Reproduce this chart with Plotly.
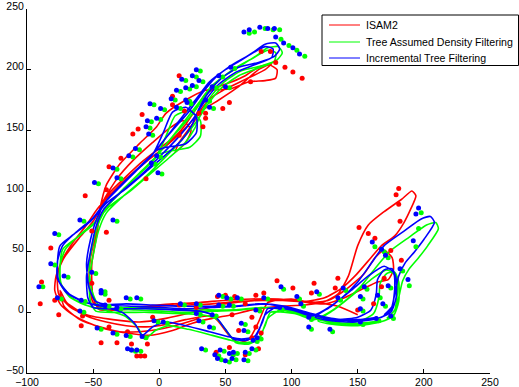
import plotly.graph_objects as go

# ---------------- trajectories (x, y) ----------------
isam2_path = [(150,-2),(135,5),(120,8),(100,10),(80,10),(60,9),(40,7),(20,6),(0,5),(-20,3),(-40,2),(-50,8),(-53,25),(-52,45),(-48,65),(-45,85),(-40,105),(-30,122),(-15,139),(-2,153),(5,164),(20,175),(35,183),(53,184),(68,190),(80,191),(88,193),(89,200),(83,204),(75,202),(65,195),(55,190),(45,186),(35,180),(28,168),(20,155),(12,145),(0,135),(-12,125),(-25,112),(-38,98),(-50,75),(-60,62),(-72,45),(-78,30),(-79,18),(-75,7),(-68,0),(-55,-8),(-40,-14),(-25,-17),(-8,-19),(10,-15),(25,-9),(40,-5),(55,-2),(70,2),(90,5),(110,6),(125,9),(135,15),(143,30),(150,55),(158,72),(170,83),(183,93),(191,100),(194,96),(190,85),(185,74),(178,63),(168,55),(160,45),(148,30),(138,20),(125,12),(110,9),(90,11),(70,11),(50,10),(30,8),(10,7),(-10,5),(-30,3),(-45,2),(-50,12),(-51,40),(-47,65),(-44,88),(-32,110),(-20,125),(-5,140),(8,152),(18,158),(24,150),(20,140),(12,132),(15,140),(25,155),(32,166),(45,175),(60,186),(75,200),(85,205),(80,200),(65,192),(50,184),(38,176),(28,162),(18,150),(5,137),(-10,124),(-25,110),(-38,96),(-47,85),(-55,72),(-65,58),(-74,42),(-77,30),(-76,15),(-68,5),(-55,-3),(-40,-8),(-25,-11),(-10,-12),(5,-10),(20,-6),(40,-3),(45,-8),(52,-18),(60,-25),(68,-22),(75,-8),(82,8),(100,11),(115,8),(128,10),(140,18),(155,32),(163,45),(170,51),(176,45),(177,35),(173,27),(165,25),(155,20),(140,12),(125,7),(105,9),(85,10),(65,9),(45,6),(25,0),(5,-5),(-15,-8),(-35,-6),(-55,-2),(-70,8),(-75,18),(-72,5),(-60,-6),(-45,-12),(-30,-16),(-15,-16),(0,-14),(15,-10),(30,-5)]

tadf_path = [(167,-7),(152,-9),(132,-9),(117,-5),(102,0),(82,4),(62,2),(42,1),(22,0),(2,1),(-18,2),(-36,3),(-46,6),(-51,18),(-53,38),(-50,58),(-45,76),(-38,89),(-26,103),(-13,117),(-1,130),(10,145),(20,159),(30,173),(40,187),(52,197),(64,205),(74,212),(82,218),(90,219),(93,214),(89,208),(77,203),(62,199),(49,190),(39,178),(32,165),(27,152),(19,139),(7,127),(-8,113),(-23,99),(-38,87),(-50,72),(-63,61),(-73,52),(-75,37),(-74,23),(-66,12),(-53,5),(-38,1),(-26,-3),(-16,-13),(-11,-22),(-3,-15),(7,-11),(22,-14),(40,-19),(54,-23),(64,-25),(74,-23),(80,-11),(84,0),(102,-1),(117,-6),(127,-1),(140,9),(152,21),(163,36),(174,50),(189,62),(202,72),(209,74),(211,69),(203,55),(196,45),(189,36),(184,26),(181,12),(178,-1),(170,-7),(152,-10),(132,-8),(117,-4),(97,2),(77,4),(57,2),(37,2),(17,2),(-3,3),(-23,4),(-43,3),(-56,6),(-68,13),(-75,25),(-75,39),(-71,52),(-61,63),(-48,75),(-38,89),(-28,100),(-16,113),(-3,127),(5,145),(12,162),(22,166),(31,158),(31,145),(23,136),(8,133),(0,131),(12,147),(24,162),(34,177),(44,190),(57,201),(70,209),(82,216),(88,214),(87,207),(74,201),(60,195),(47,185),(37,172),(28,157),(17,142),(2,125),(-13,109),(-28,95),(-40,82),(-46,67),(-50,47),(-53,27),(-52,9),(-48,1),(-28,0),(-8,0),(12,-1),(32,-2),(44,-6),(52,-17),(58,-25),(68,-26),(76,-21),(82,-5),(92,2),(107,-2),(120,-6),(137,-9),(152,-7),(162,-1),(166,12),(167,24),(172,32),(178,33),(181,25),(181,9),(177,-3),(167,-8),(150,-11),(132,-10),(120,-7),(132,2),(147,15),(160,27),(172,35),(179,30),(180,17),(178,2),(172,-5)]

itf_path = [(165,-4),(150,-6),(130,-6),(115,-2),(100,3),(80,7),(60,5),(40,4),(20,3),(0,4),(-20,5),(-38,6),(-48,9),(-53,20),(-55,40),(-52,60),(-47,78),(-40,92),(-28,106),(-15,120),(-3,133),(8,148),(18,162),(28,176),(38,190),(50,200),(62,208),(72,215),(80,221),(88,222),(91,217),(87,211),(75,206),(60,202),(47,193),(37,181),(30,168),(25,155),(17,142),(5,130),(-10,116),(-25,102),(-40,90),(-52,75),(-65,64),(-75,55),(-77,40),(-76,26),(-68,15),(-55,8),(-40,4),(-28,0),(-18,-10),(-13,-19),(-5,-12),(5,-8),(20,-11),(38,-16),(52,-20),(62,-22),(72,-20),(78,-8),(82,3),(100,2),(115,-3),(125,2),(138,12),(150,25),(160,40),(170,55),(185,67),(198,77),(205,79),(208,74),(200,60),(193,50),(186,41),(181,30),(178,15),(175,2),(168,-4),(150,-7),(130,-5),(115,-1),(95,5),(75,7),(55,5),(35,5),(15,5),(-5,6),(-25,7),(-45,6),(-58,9),(-70,16),(-77,28),(-77,42),(-73,55),(-63,66),(-50,78),(-40,92),(-30,103),(-18,116),(-5,130),(3,148),(10,165),(20,169),(28,161),(28,148),(20,139),(5,136),(-2,134),(10,150),(22,165),(32,180),(42,193),(55,204),(68,212),(80,219),(86,217),(85,210),(72,204),(58,198),(45,188),(35,175),(26,160),(15,145),(0,128),(-15,112),(-30,98),(-42,85),(-48,70),(-52,50),(-55,30),(-54,12),(-50,4),(-30,3),(-10,3),(10,2),(30,1),(42,-3),(50,-14),(56,-22),(66,-23),(74,-18),(80,-2),(90,5),(105,1),(118,-3),(135,-6),(150,-4),(160,2),(164,15),(165,27),(170,35),(176,36),(179,28),(179,12),(175,0),(165,-5),(148,-8),(130,-7),(118,-4),(130,5),(145,18),(158,30),(170,38),(177,33),(178,20),(176,5),(170,-2)]

# ---------------- landmarks (x, y) ----------------
isam2_landmarks = [(77,215),(84,215),(88,206),(95,202),(101,198),(108,193),(69,190),(48,168),(35,164),(35,160),(30,164),(33,153),(19,166),(10,171),(10,178),(15,195),(53,173),(-56,96),(-38,120),(-29,127),(-20,147),(-16,151),(-13,163),(-10,110),(-40,101),(15,146),
(-82,53),(-89,25),(-90,7),(-79,10),(-76,-2),(-59,-11),(-58,-3),(-44,-25),(-32,-25),(-51,67),(-40,66),(-51,24),(-38,10),(-38,-12),(-24,-16),
(-21,-26),(-9,-26),(-17,-36),(-14,-36),(-11,-36),(-5,-4),(15,6),(28,4),(44,13),(50,14),(57,13),(65,7),(70,-4),(73,-12),(70,-21),(53,-29),(65,-35),(43,-33),(73,14),(79,16),(55,-2),(60,-15),(77,-17),(75,-30),
(89,26),(101,20),(117,24),(115,16),(135,28),(133,20),(151,70),(158,65),(163,61),(162,7),(150,2),(168,21),(170,28),(175,51),(183,43),(182,75),(181,89),(179,97),(181,102)]

tadf_landmarks = [(68,230),(72,231),(80,234),(86,233),(91,233),(92,225),(98,220),(104,216),(110,211),
(31,199),(20,191),(28,194),(33,190),(28,186),(23,184),(16,182),(12,175),(23,174),(16,168),(4,167),(-4,171),(-6,157),(1,159),(-7,152),(-5,146),(-15,134),(-20,128),(-3,122),(1,128),(2,114),(-29,110),(-32,118),(-46,106),(38,174),(43,185),(48,194),(57,201),(53,185),(41,168),(24,172),
(-57,75),(-76,64),(-79,39),(-88,21),(-69,29),(-48,32),(-41,17),(-41,15),(-74,11),(-56,9),(-57,0),(-44,-14),(-32,-18),(-22,-20),(-21,-31),(-32,75),(-29,3),(-22,11),(-14,11),(-38,5),
(-18,-32),(-14,-32),(-10,-21),(-1,-8),(6,-9),(19,6),(31,6),(31,-2),(33,-8),(35,-31),(41,-13),(43,-3),(45,-36),(49,-32),(48,13),(54,11),(62,11),(48,5),(56,5),(65,-10),(67,-16),(47,-39),(56,-35),(59,-34),(53,-41),(58,-39),(67,-40),(68,-34),(73,-31),(74,-24),(77,-22),(76,1),(82,11),
(94,19),(106,11),(121,15),(109,5),(93,2),(115,-6),(115,-14),(131,-16),(141,18),(137,10),(154,11),(157,19),(154,1),(154,-10),(166,-7),(177,-5),(163,54),(170,50),(173,45),(189,22),(194,54),(198,82),(196,69),(184,34),(171,5),(175,20),(167,12)]

itf_landmarks = [(64,231),(68,233),(76,235),(82,234),(87,234),(88,227),(94,222),(101,218),(106,213),
(28,200),(17,192),(25,195),(30,191),(25,187),(20,185),(13,183),(9,176),(20,175),(13,169),(1,168),(-7,172),(-9,158),(-2,160),(-10,153),(-8,147),(-18,135),(-23,129),(-6,123),(-2,129),(-1,115),(-32,111),(-35,119),(-49,107),(35,175),(40,186),(45,195),(54,202),(50,186),(38,169),(21,173),
(-60,76),(-79,65),(-82,40),(-91,21),(-72,30),(-51,33),(-44,18),(-44,16),(-77,12),(-59,10),(-60,1),(-47,-13),(-35,-17),(-25,-19),(-24,-30),(-35,76),(-32,4),(-25,12),(-17,12),(-41,6),
(-21,-31),(-17,-31),(-13,-20),(-4,-7),(3,-8),(16,7),(28,7),(28,-1),(30,-7),(32,-30),(38,-12),(40,-2),(42,-35),(46,-31),(45,14),(51,12),(59,12),(45,6),(53,6),(62,-9),(64,-15),(44,-38),(53,-34),(56,-33),(50,-40),(55,-38),(64,-39),(65,-33),(70,-30),(71,-23),(74,-21),(73,2),(79,12),
(92,21),(104,13),(119,17),(107,7),(91,4),(113,-4),(113,-12),(129,-14),(139,20),(135,12),(152,13),(155,21),(152,3),(152,-8),(164,-5),(175,-3),(161,58),(168,52),(171,47),(188,27),(192,59),(196,86),(194,81),(182,36),(169,7),(173,22),(165,14)]

series_names = ["ISAM2", "Tree Assumed Density Filtering", "Incremental Tree Filtering"]
series_colors = ["#ff0000", "#00ff00", "#0000ff"]
x_ticks = [-100, -50, 0, 50, 100, 150, 200, 250]
y_ticks = [-50, 0, 50, 100, 150, 200, 250]

paths = [isam2_path, tadf_path, itf_path]
landmarks = [isam2_landmarks, tadf_landmarks, itf_landmarks]

fig = go.Figure()
for name, color, path in zip(series_names, series_colors, paths):
    fig.add_trace(go.Scatter(
        x=[p[0] for p in path], y=[p[1] for p in path], mode="lines", name=name,
        showlegend=False,
        line=dict(color=color, width=1.6, shape="spline", smoothing=0.6)))
for name, color, pts in zip(series_names, series_colors, landmarks):
    fig.add_trace(go.Scatter(
        x=[p[0] for p in pts], y=[p[1] for p in pts], mode="markers", showlegend=False,
        marker=dict(color=color, size=5, line=dict(width=0))))

axis_common = dict(showline=True, linecolor="black", linewidth=1, mirror=False,
                   ticks="inside", ticklen=4, tickcolor="black", showgrid=False,
                   zeroline=False, automargin=False, ticklabeloverflow="allow")
fig.update_xaxes(range=[-100, 250], tickvals=x_ticks, ticklabelstandoff=-1,
                 tickfont=dict(size=10.5, color="black"), **axis_common)
fig.update_yaxes(range=[-50, 250], tickvals=y_ticks, ticklabelshift=-3,
                 tickfont=dict(size=10.5, color="black"), **axis_common)

# ---- legend box drawn in paper coordinates (layout only) ----
L, R, T, B = 27, 29, 9, 14
W, H = 519 - L - R, 387 - T - B
def px(xp):
    return (xp - L) / W
def py(yp):
    return (387 - B - yp) / H

shapes = [dict(type="rect", xref="paper", yref="paper",
               x0=px(322), x1=px(518.5), y0=py(65.5), y1=py(15),
               line=dict(color="black", width=1), fillcolor="white", layer="above")]
annotations = []
row_y = [25, 42, 58]
for name, color, ry in zip(series_names, series_colors, row_y):
    shapes.append(dict(type="line", xref="paper", yref="paper",
                       x0=px(329), x1=px(360), y0=py(ry), y1=py(ry),
                       line=dict(color=color, width=1), layer="above"))
    annotations.append(dict(xref="paper", yref="paper", x=px(364), y=py(ry),
                            text=name, showarrow=False, xanchor="left", yanchor="middle",
                            font=dict(size=10.6, color="black")))

fig.update_layout(
    width=519, height=387,
    margin=dict(l=L, r=R, t=T, b=B),
    paper_bgcolor="white", plot_bgcolor="white",
    font=dict(family="Liberation Sans, Arial, sans-serif", size=11, color="black"),
    shapes=shapes, annotations=annotations, showlegend=False,
)
fig.write_html("out.html")
